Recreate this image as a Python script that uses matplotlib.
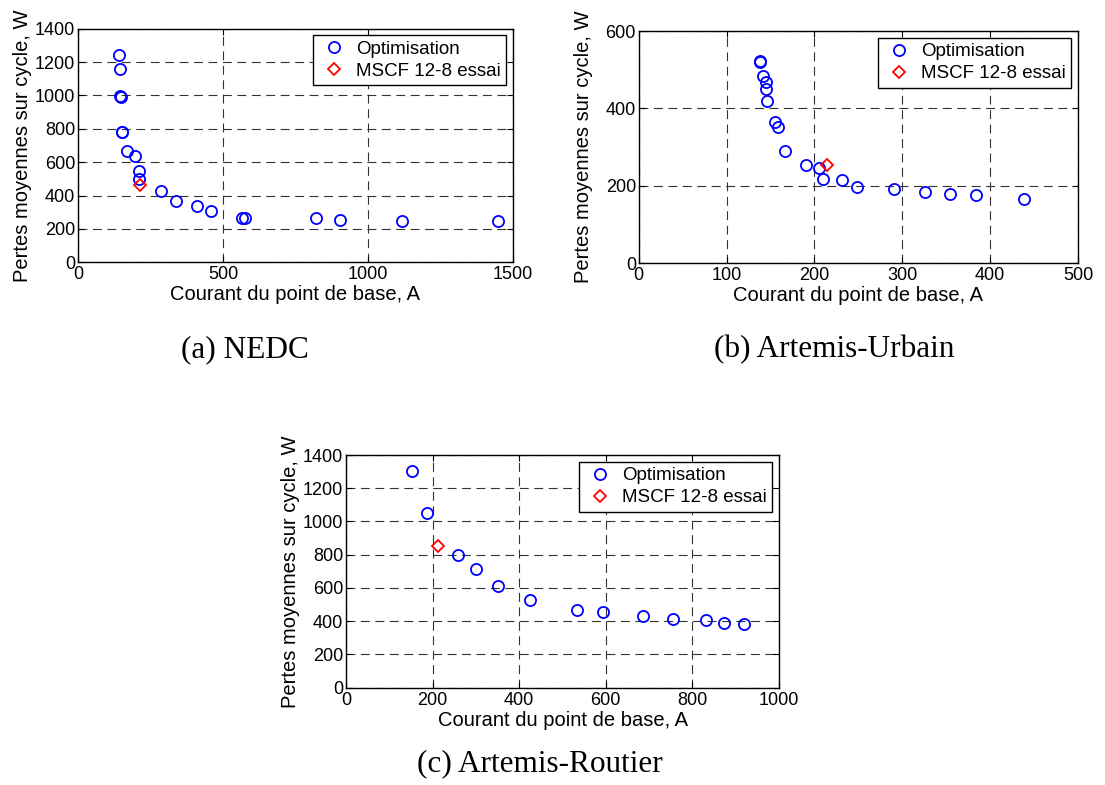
import numpy as np
import matplotlib
matplotlib.use('Agg')
import matplotlib.pyplot as plt

# (a) NEDC
nedc_I = [142, 144, 145, 148, 150, 152, 169, 196, 209, 212, 285, 339, 410, 458, 567, 576, 821, 902, 1117, 1450]
nedc_P = [1240, 1160, 995, 988, 783, 779, 668, 638, 550, 500, 425, 370, 340, 310, 268, 268, 264, 254, 250, 250]
nedc_essai_I = [214]
nedc_essai_P = [465]

# (b) Artemis-Urbain
urb_I = [137.5, 138.5, 141, 144.5, 145, 146.5, 155.5, 158.5, 166.5, 190, 205, 210, 231, 248, 291, 326, 354.5, 383.5, 438.5]
urb_P = [523, 520, 484, 467, 449, 419, 364, 351, 290, 253, 247, 218, 214, 197, 193, 185, 179, 177, 166]
urb_essai_I = [214.5]
urb_essai_P = [255]

# (c) Artemis-Routier
rout_I = [152, 187, 259.5, 300, 351, 424, 533, 594, 687, 755, 832, 873, 919]
rout_P = [1303, 1054, 796, 715, 609, 529, 467, 453, 429, 415, 405, 387, 383]
rout_essai_I = [213]
rout_essai_P = [852]

plt.rcParams['font.family'] = ['Liberation Sans', 'DejaVu Sans']
plt.rcParams['font.size'] = 13

W, H = 1105, 785
fig = plt.figure(figsize=(W / 100, H / 100), dpi=100)


def box(l, t, r, b):
    return [l / W, 1 - b / H, (r - l) / W, (b - t) / H]


def panel(rect, I, P, eI, eP, xlim, xticks, ylim, yticks, caption, cap_xy):
    ax = fig.add_axes(box(*rect))
    ax_w = rect[2] - rect[0]
    ax_h = rect[3] - rect[1]
    ax.plot(I, P, 'o', mfc='none', mec='blue', ms=8, mew=1.3, label='Optimisation')
    ax.plot(eI, eP, 'D', mfc='none', mec='red', ms=6, mew=1.3, label='MSCF 12-8 essai')
    ax.set_xlim(*xlim)
    ax.set_ylim(*ylim)
    ax.set_xticks(xticks)
    ax.set_yticks(yticks)
    ax.tick_params(direction='in', length=4, width=0.8, top=True, right=True, pad=2,
                   labelsize=13)
    ax.tick_params(axis='x', pad=3)
    for s in ax.spines.values():
        s.set_linewidth(1.0)
    ax.grid(True, color='0.2', linestyle=(0, (8, 5)), linewidth=0.8)
    ax.set_axisbelow(True)
    ax.set_xlabel('Courant du point de base, A', fontsize=14.5)
    ax.set_ylabel('Pertes moyennes sur cycle, W', fontsize=14.5)
    ax.xaxis.set_label_coords(0.5, -23 / ax_h)
    ax.yaxis.set_label_coords(-46 / ax_w, 0.5)
    leg = ax.legend(loc='upper right', fancybox=False, edgecolor='black', framealpha=1,
                    borderaxespad=0.35, handletextpad=0.4, borderpad=0.3, labelspacing=0.25,
                    handlelength=1.6, fontsize=13.5)
    leg.get_frame().set_linewidth(1.0)
    fig.text(cap_xy[0] / W, 1 - cap_xy[1] / H, caption, family=['Liberation Serif'],
             fontsize=22.5, ha='center', va='center')
    return ax


panel((78, 28.7, 513, 262.3), nedc_I, nedc_P, nedc_essai_I, nedc_essai_P,
      (0, 1500), [0, 500, 1000, 1500], (0, 1400), np.arange(0, 1401, 200),
      '(a) NEDC', (245, 350))
panel((638.7, 31, 1078, 263.3), urb_I, urb_P, urb_essai_I, urb_essai_P,
      (0, 500), [0, 100, 200, 300, 400, 500], (0, 600), [0, 200, 400, 600],
      '(b) Artemis-Urbain', (834, 350))
panel((346, 455, 779, 687.7), rout_I, rout_P, rout_essai_I, rout_essai_P,
      (0, 1000), [0, 200, 400, 600, 800, 1000], (0, 1400), np.arange(0, 1401, 200),
      '(c) Artemis-Routier', (540, 764))

fig.savefig('out.png', dpi=100)
